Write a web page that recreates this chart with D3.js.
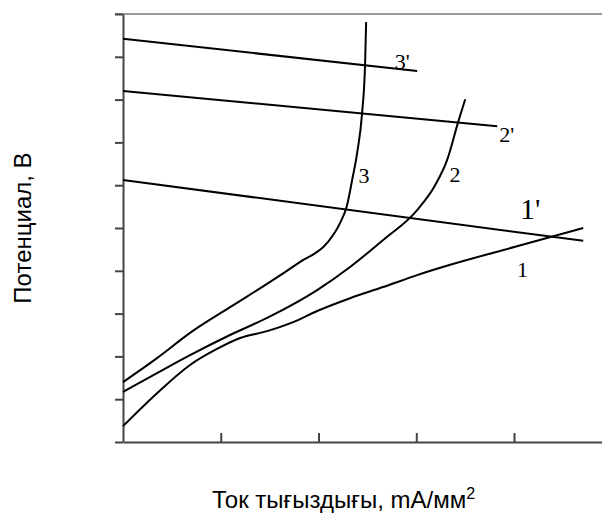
<!DOCTYPE html>
<html>
<head>
<meta charset="utf-8">
<script src="https://cdn.jsdelivr.net/npm/d3@7"></script>
<style>
  html, body { margin: 0; padding: 0; background: #fff; }
  svg { display: block; }
</style>
</head>
<body>
<svg id="chart" width="602" height="513"></svg>
<script>
// polarization curves (current density, mA/mm2 -> potential, V)
const curve1 = [[0,0.37],[0.348,1.14],[0.686,1.8],[0.942,2.15],[1.198,2.43],[1.474,2.59],[1.74,2.8],[1.986,3.06],[2.323,3.36],[2.661,3.62],[3.009,3.9],[3.347,4.14],[4.012,4.56],[4.708,5.0]];
const curve2 = [[0,1.17],[0.348,1.61],[0.686,2.03],[1.095,2.5],[1.474,2.9],[1.986,3.55],[2.323,4.09],[2.661,4.72],[3.009,5.42],[3.193,6.0],[3.316,6.59],[3.429,7.48],[3.501,8.01]];
const curve3 = [[0,1.4],[0.348,1.96],[0.686,2.55],[1.095,3.15],[1.505,3.74],[1.812,4.21],[2.088,4.65],[2.221,5.12],[2.293,5.54],[2.344,6.12],[2.395,6.75],[2.446,7.69],[2.477,8.86],[2.487,9.81]];
// straight lines 1', 2', 3'
const line1p = [[0,6.12],[4.708,4.7]];
const line2p = [[0,8.2],[3.828,7.38]];
const line3p = [[0,9.42],[3.009,8.67]];

const xTicks = [1, 2, 3, 4];
const yTicks = d3.range(0, 11);

// curve labels: [text, x, y] in data units
const labels = [["3'", 2.78, 8.71], ["2'", 3.85, 7.0], ["3", 2.41, 6.05], ["2", 3.34, 6.08]];
const bigLabels = [["1'", 4.06, 5.2]];
const lowLabels = [["1", 4.03, 3.85]];

const svg = d3.select('#chart');

const x = d3.scaleLinear().domain([0, 4.9]).range([123, 602]);
const y = d3.scaleLinear().domain([0, 10]).range([442, 14]);

// top frame line (gray)
svg.append('line')
  .attr('x1', 115).attr('x2', 602)
  .attr('y1', y(10)).attr('y2', y(10))
  .attr('stroke', '#9a9a9a').attr('stroke-width', 2);

// y axis with outside ticks, no labels
const gy = svg.append('g')
  .attr('transform', `translate(${x(0)},0)`)
  .call(d3.axisLeft(y).tickValues(yTicks).tickSize(8).tickSizeOuter(0).tickFormat(''));

// x axis with ticks pointing up
const gx = svg.append('g')
  .attr('transform', `translate(0,${y(0)})`)
  .call(d3.axisBottom(x).tickValues(xTicks).tickSize(-9).tickSizeOuter(0).tickFormat(''));

[gx, gy].forEach(g => {
  g.select('.domain').attr('stroke', '#444').attr('stroke-width', 2);
  g.selectAll('.tick line').attr('stroke', '#444').attr('stroke-width', 2);
});

const lineGen = d3.line()
  .x(d => x(d[0]))
  .y(d => y(d[1]))
  .curve(d3.curveMonotoneX);

svg.append('g')
  .selectAll('path')
  .data([curve1, curve2, curve3, line1p, line2p, line3p])
  .join('path')
  .attr('d', lineGen)
  .attr('fill', 'none')
  .attr('stroke', '#000')
  .attr('stroke-width', 2);

// curve numbers in a serif face
const addLabels = (arr, size) => svg.append('g')
  .selectAll('text')
  .data(arr)
  .join('text')
  .attr('x', d => x(d[1]))
  .attr('y', d => y(d[2]))
  .attr('font-family', '"Liberation Serif", "DejaVu Serif", serif')
  .attr('font-size', size)
  .attr('fill', '#000')
  .text(d => d[0]);

addLabels(labels, 22);
addLabels(bigLabels, 30);
addLabels(lowLabels, 22);

// axis titles
const xt = svg.append('text')
  .attr('x', 212).attr('y', 508)
  .attr('font-family', '"Liberation Sans", Arial, sans-serif')
  .attr('font-size', 24)
  .attr('fill', '#000');
xt.append('tspan').text('Ток тығыздығы, mA/мм');
xt.append('tspan').attr('dy', -9).attr('font-size', 16).text('2');

svg.append('text')
  .attr('transform', 'translate(31,228) rotate(-90)')
  .attr('text-anchor', 'middle')
  .attr('font-family', '"Liberation Sans", Arial, sans-serif')
  .attr('font-size', 24)
  .attr('fill', '#000')
  .text('Потенциал, В');
</script>
</body>
</html>
